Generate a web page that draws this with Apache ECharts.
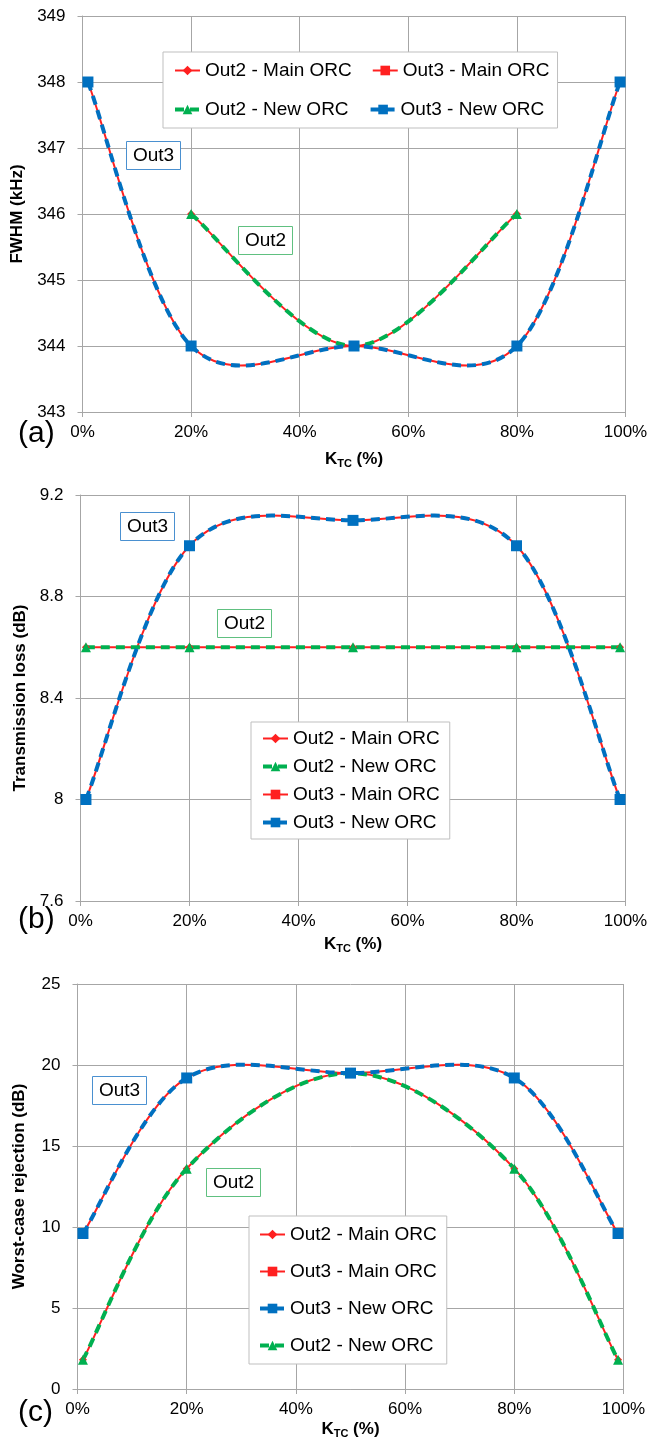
<!DOCTYPE html>
<html>
<head>
<meta charset="utf-8">
<script src="https://cdn.jsdelivr.net/npm/echarts@6/dist/echarts.min.js"></script>
<style>
html,body{margin:0;padding:0;background:#fff;}
#c{width:651px;height:1445px;}
</style>
</head>
<body>
<div id="c"></div>
<script>
// ---- data ----
const kFull = [1, 20, 50, 80, 99];
const kOut2a = [20, 50, 80];
const fwhmOut2 = [346, 344, 346];
const fwhmOut3 = [348, 344, 344, 344, 348];
const lossOut2 = [8.6, 8.6, 8.6, 8.6, 8.6];
const lossOut3 = [8.0, 9.0, 9.1, 9.0, 8.0];
const rejOut2 = [1.8, 13.6, 19.5, 13.6, 1.8];
const rejOut3 = [9.6, 19.2, 19.5, 19.2, 9.6];
const seriesNames = ['Out2 - Main ORC', 'Out3 - Main ORC', 'Out2 - New ORC', 'Out3 - New ORC'];

const FONT = 'Liberation Sans, Arial, sans-serif';
const RED = '#ff2020', BLUE = '#0070c0', GREEN = '#00b050';
const GRIDC = '#a6a6a6';
const DASH = [9, 6];

function pairs(xs, ys) { return xs.map((x, i) => [x, ys[i]]); }

// Excel-like smoothed curve (Catmull-Rom bezier through the data points, via the axis scales)
function curveRenderer(pts, stroke, width, dash) {
  return function (params, api) {
    if (params.dataIndex !== 0) return null;
    const P = pts.map(p => api.coord(p));
    const n = P.length;
    let d = 'M' + P[0][0] + ' ' + P[0][1];
    for (let i = 0; i < n - 1; i++) {
      const p0 = P[Math.max(i - 1, 0)], p1 = P[i], p2 = P[i + 1], p3 = P[Math.min(i + 2, n - 1)];
      const c1x = p1[0] + (p2[0] - p0[0]) / 6, c1y = p1[1] + (p2[1] - p0[1]) / 6;
      const c2x = p2[0] - (p3[0] - p1[0]) / 6, c2y = p2[1] - (p3[1] - p1[1]) / 6;
      d += ' C' + c1x + ' ' + c1y + ' ' + c2x + ' ' + c2y + ' ' + p2[0] + ' ' + p2[1];
    }
    return { type: 'path', shape: { pathData: d },
      style: { fill: 'none', stroke: stroke, lineWidth: width, lineDash: dash || null } };
  };
}

function makeSeries(gi, out2x, out2y, out3x, out3y) {
  const d2 = pairs(out2x, out2y), d3 = pairs(out3x, out3y);
  const curve = (data, color, w, dash, z) => ({ type: 'custom', coordinateSystem: 'cartesian2d',
    xAxisIndex: gi, yAxisIndex: gi, data: data, encode: { x: 0, y: 1 }, silent: true, z: z,
    renderItem: curveRenderer(data, color, w, dash) });
  const marks = (name, data, symbol, size, color, w, dash, z) => ({ type: 'line', name: name,
    xAxisIndex: gi, yAxisIndex: gi, data: data, symbol: symbol, symbolSize: size, showAllSymbol: true,
    itemStyle: { color: color }, lineStyle: { color: color, width: w, type: dash || 'solid', opacity: 0 }, z: z });
  return [
    curve(d2, RED, 2, null, 2), curve(d3, RED, 2, null, 2),
    curve(d2, GREEN, 4, DASH, 3), curve(d3, BLUE, 4, DASH, 3),
    marks(seriesNames[0], d2, 'diamond', 8, RED, 2, null, 4),
    marks(seriesNames[1], d3, 'rect', 7, RED, 2, null, 4),
    marks(seriesNames[2], d2, 'triangle', 10, GREEN, 4, DASH, 5),
    marks(seriesNames[3], d3, 'rect', 11, BLUE, 4, DASH, 5)
  ];
}

const grids = [
  { left: 82.5, right: 651 - 625.5, top: 16, height: 396 },
  { left: 80.5, right: 651 - 625.5, top: 495, height: 406 },
  { left: 77.5, right: 651 - 623.5, top: 984, height: 405 }
];

const xNameGaps = [37, 33, 30];
const xAxes = grids.map((g, i) => ({
  type: 'value', gridIndex: i, min: 0, max: 100, interval: 20,
  name: '{k|K}{s|TC}{k| (%)}', nameLocation: 'middle', nameGap: xNameGaps[i],
  nameTextStyle: { rich: {
    k: { fontFamily: FONT, fontSize: 17, fontWeight: 'bold', color: '#000' },
    s: { fontFamily: FONT, fontSize: 11, fontWeight: 'bold', color: '#000', verticalAlign: 'bottom', padding: [9, 0, 0, 0] }
  } },
  axisLine: { show: true, lineStyle: { color: GRIDC, width: 1 } },
  axisTick: { show: true, length: 5, lineStyle: { color: GRIDC } },
  axisLabel: { formatter: '{value}%', fontFamily: FONT, fontSize: 17, color: '#000', margin: 12 },
  splitLine: { show: true, lineStyle: { color: GRIDC, width: 1 } }
}));

const yDefs = [
  { min: 343, max: 349, interval: 1, name: 'FWHM (kHz)' },
  { min: 7.6, max: 9.2, interval: 0.4, name: 'Transmission loss (dB)' },
  { min: 0, max: 25, interval: 5, name: 'Worst-case rejection (dB)' }
];
const yNameGaps = [51, 52, 50];
const yAxes = yDefs.map((d, i) => ({
  type: 'value', gridIndex: i, min: d.min, max: d.max, interval: d.interval,
  name: d.name, nameLocation: 'middle', nameGap: yNameGaps[i],
  nameTextStyle: { fontFamily: FONT, fontSize: 17, fontWeight: 'bold', color: '#000' },
  axisLine: { show: true, lineStyle: { color: GRIDC, width: 1 } },
  axisTick: { show: true, length: 5, lineStyle: { color: GRIDC } },
  axisLabel: { fontFamily: FONT, fontSize: 17, color: '#000', margin: 17,
    formatter: v => String(Math.round(v * 10) / 10) },
  splitLine: { show: true, lineStyle: { color: GRIDC, width: 1 } }
}));

const legendText = { fontFamily: FONT, fontSize: 19, color: '#000' };
const legendBase = { backgroundColor: '#fff', borderColor: '#bfbfbf', borderWidth: 1, itemWidth: 25, itemHeight: 12,
  textStyle: legendText, selectedMode: false, inactiveColor: '#000' };
const legendItem = {};
legendItem[seriesNames[0]] = { name: seriesNames[0], lineStyle: { opacity: 1, width: 2 } };
legendItem[seriesNames[1]] = { name: seriesNames[1], lineStyle: { opacity: 1, width: 2 } };
legendItem[seriesNames[2]] = { name: seriesNames[2], lineStyle: { opacity: 1, width: 4 } };
legendItem[seriesNames[3]] = { name: seriesNames[3], lineStyle: { opacity: 1, width: 4 } };
const L = idx => idx.map(i => legendItem[seriesNames[i]]);
const legends = [
  Object.assign({}, legendBase, { left: 163, top: 52, width: 380, orient: 'horizontal', itemGap: 20,
    padding: [9, 8, 9, 10], data: L([0, 1, 2, 3]) }),
  Object.assign({}, legendBase, { left: 251, top: 722, orient: 'vertical', itemGap: 9,
    padding: [7, 10, 7, 10], data: L([0, 2, 1, 3]) }),
  Object.assign({}, legendBase, { left: 249, top: 1216, orient: 'vertical', itemGap: 18,
    padding: [9, 10, 9, 9], data: L([0, 1, 3, 2]) })
];

function box(text, left, top, color) {
  return { text: text, left: left, top: top, padding: [5, 7], borderColor: color, borderWidth: 1,
    backgroundColor: '#fff', textStyle: { fontFamily: FONT, fontSize: 19, fontWeight: 'normal', color: '#000' } };
}
function panel(text, left, top) {
  return { text: text, left: left, top: top, padding: 0,
    textStyle: { fontFamily: FONT, fontSize: 30, fontWeight: 'normal', color: '#000' } };
}
const BOXBLUE = '#4a90d0', BOXGREEN = '#60c080';
const titles = [
  box('Out3', 126, 141, BOXBLUE), box('Out2', 238, 226, BOXGREEN),
  box('Out3', 120, 512, BOXBLUE), box('Out2', 217, 609, BOXGREEN),
  box('Out3', 92, 1076, BOXBLUE), box('Out2', 206, 1168, BOXGREEN),
  panel('(a)', 18, 419), panel('(b)', 18, 905), panel('(c)', 18, 1398)
];

const series = [].concat(
  makeSeries(0, kOut2a, fwhmOut2, kFull, fwhmOut3),
  makeSeries(1, kFull, lossOut2, kFull, lossOut3),
  makeSeries(2, kFull, rejOut2, kFull, rejOut3)
);

const chart = echarts.init(document.getElementById('c'), null, { renderer: 'canvas' });
chart.setOption({
  animation: false,
  backgroundColor: '#fff',
  title: titles,
  legend: legends,
  grid: grids,
  xAxis: xAxes,
  yAxis: yAxes,
  series: series
});
</script>
</body>
</html>
